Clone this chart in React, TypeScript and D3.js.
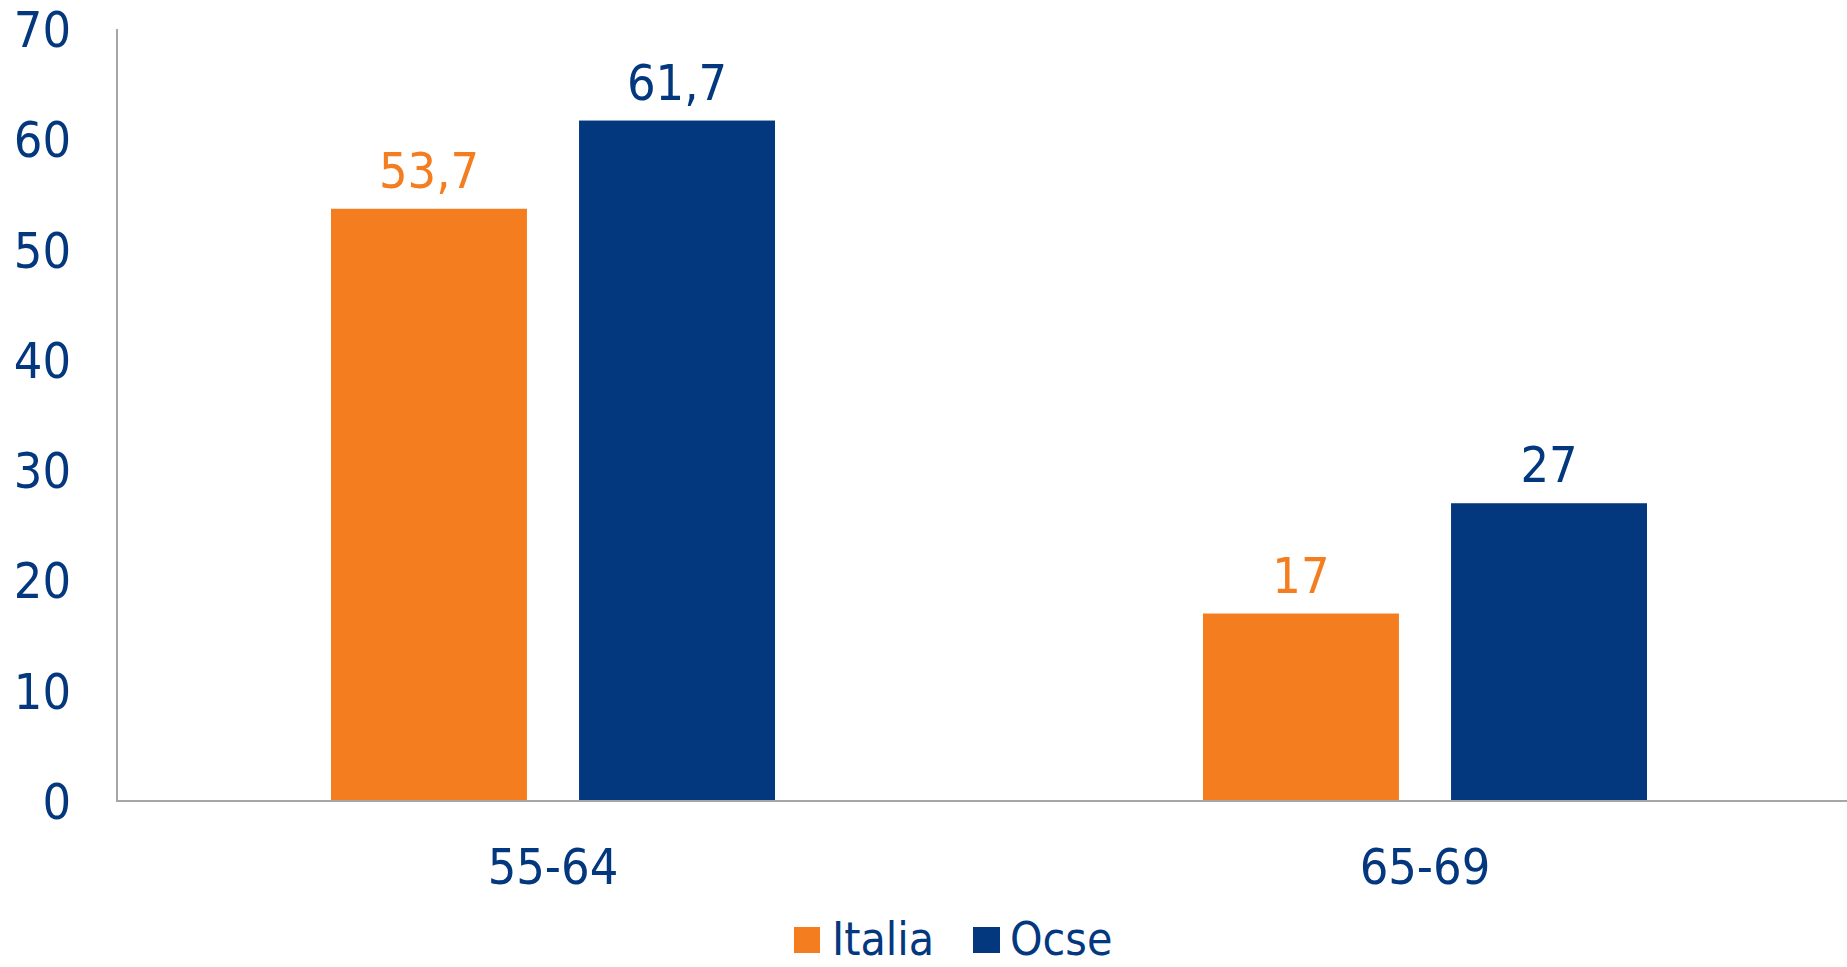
import React from 'react';
import * as d3 from 'd3';

const categories = ['55-64', '65-69'];
const seriesNames = ['Italia', 'Ocse'];
const italia = [53.7, 17];
const ocse = [61.7, 27];
const yTicks = [0, 10, 20, 30, 40, 50, 60, 70];

const ORANGE = '#F47D20';
const NAVY = '#03387F';
const FONT = '"DejaVu Sans Condensed", "DejaVu Sans", sans-serif';

const W = 1847;
const H = 967;

const fmt = (v: number) => String(v).replace('.', ',');

const App: React.FC = () => {
    // scales
    const x = d3.scaleBand<string>().domain(categories).range([117, 1861]);
    const xs = d3.scaleBand<string>().domain(seriesNames).range([214, 658]).paddingInner(0.21);
    const y = d3.scaleLinear().domain([0, 70]).range([801, 29]);

    const series = [
        { name: 'Italia', values: italia, color: ORANGE },
        { name: 'Ocse', values: ocse, color: NAVY },
    ];

    return (
        <svg width={W} height={H} style={{ position: 'absolute', left: 0, top: 0, background: '#fff' }}>
            {/* y tick labels */}
            {yTicks.map(t => (
                <text key={t} x={71} y={y(t)} dy="0.36em" textAnchor="end" fill={NAVY}
                    fontFamily={FONT} fontSize={50}>{t}</text>
            ))}

            {/* bars */}
            {series.map(s => s.values.map((v, i) => {
                const bx = (x(categories[i]) as number) + (xs(s.name) as number);
                return (
                    <g key={s.name + i}>
                        <rect x={bx} y={y(v)} width={xs.bandwidth()} height={y(0) - y(v)} fill={s.color} />
                        <text x={bx + xs.bandwidth() / 2} y={y(v) - 21} textAnchor="middle" fill={s.color}
                            fontFamily={FONT} fontSize={50}>{fmt(v)}</text>
                    </g>
                );
            }))}

            {/* axes */}
            <line x1={117} x2={117} y1={y(70)} y2={y(0)} stroke="#A6A6A6" strokeWidth={2} />
            <line x1={116} x2={W} y1={y(0)} y2={y(0)} stroke="#A6A6A6" strokeWidth={2} />

            {/* category labels */}
            {categories.map(c => (
                <text key={c} x={(x(c) as number) + x.bandwidth() / 2} y={884} textAnchor="middle" fill={NAVY}
                    fontFamily={FONT} fontSize={50}>{c}</text>
            ))}

            {/* legend */}
            <rect x={794} y={927} width={26} height={26} fill={ORANGE} />
            <text x={832} y={955} fill={NAVY} fontFamily={FONT} fontSize={46}>{seriesNames[0]}</text>
            <rect x={973} y={927} width={27} height={26} fill={NAVY} />
            <text x={1010} y={955} fill={NAVY} fontFamily={FONT} fontSize={46}>{seriesNames[1]}</text>
        </svg>
    );
};

export default App;
